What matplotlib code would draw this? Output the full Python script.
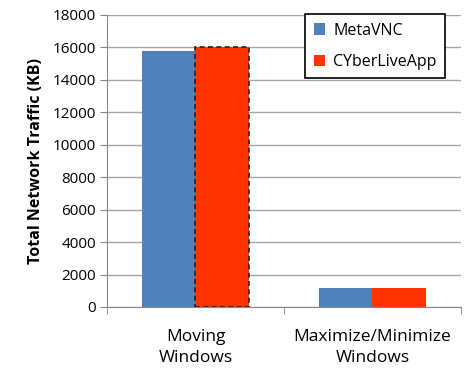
import numpy as np
import matplotlib.pyplot as plt

plt.rcParams['font.family'] = ['Open Sans', 'DejaVu Sans']

categories = ['Moving\nWindows', 'Maximize/Minimize\nWindows']
metavnc = [15800, 1200]
cyberlive = [16000, 1200]
yticks = [0, 2000, 4000, 6000, 8000, 10000, 12000, 14000, 16000, 18000]

fig = plt.figure(figsize=(4.68, 3.73), dpi=100)
ax = fig.add_axes([0.2286, 0.177, 0.7564, 0.783])

x = np.arange(len(categories))
w = 0.3
ax.bar(x - w / 2, metavnc, w, color='#4f81bd', label='MetaVNC', zorder=3)
ax.bar(x + w / 2, cyberlive, w, color='#ff3300', label='CYberLiveApp', zorder=3)
# dashed outline on first red bar
ax.bar(x[0] + w / 2, cyberlive[0], w, facecolor='none', edgecolor='#222222',
       linestyle=(0, (3, 2)), linewidth=1.2, zorder=4)

ax.set_xlim(-0.5, 1.5)
ax.set_ylim(0, 18000)
ax.set_yticks(yticks)
ax.set_yticklabels([str(v) for v in yticks], fontsize=11)
ax.set_xticks(x)
ax.set_xticklabels(categories, fontsize=12.5, linespacing=1.4)
ax.tick_params(axis='x', length=0, pad=16)
ax.set_xticks([-0.5, 0.5, 1.5], minor=True)
ax.tick_params(axis='x', which='minor', length=5, color='#888888')
ax.tick_params(axis='y', length=5, color='#888888', pad=3)

ax.grid(axis='y', color='#a6a6a6', linewidth=1, zorder=0)
for s in ['top', 'right']:
    ax.spines[s].set_visible(False)
ax.spines['left'].set_color('#888888')
ax.spines['bottom'].set_color('#888888')

ax.set_ylabel('Total Network Traffic (KB)', fontsize=11.5, fontweight='bold', labelpad=6)

leg = ax.legend(loc='upper right', bbox_to_anchor=(0.965, 1.015), fontsize=11.5,
                fancybox=False, framealpha=1, edgecolor='black', handlelength=0.7,
                handleheight=0.7, labelspacing=0.95, borderpad=0.55, handletextpad=0.5,
                borderaxespad=0.2)
leg.get_frame().set_linewidth(1.2)

fig.savefig('out.png', dpi=100)
